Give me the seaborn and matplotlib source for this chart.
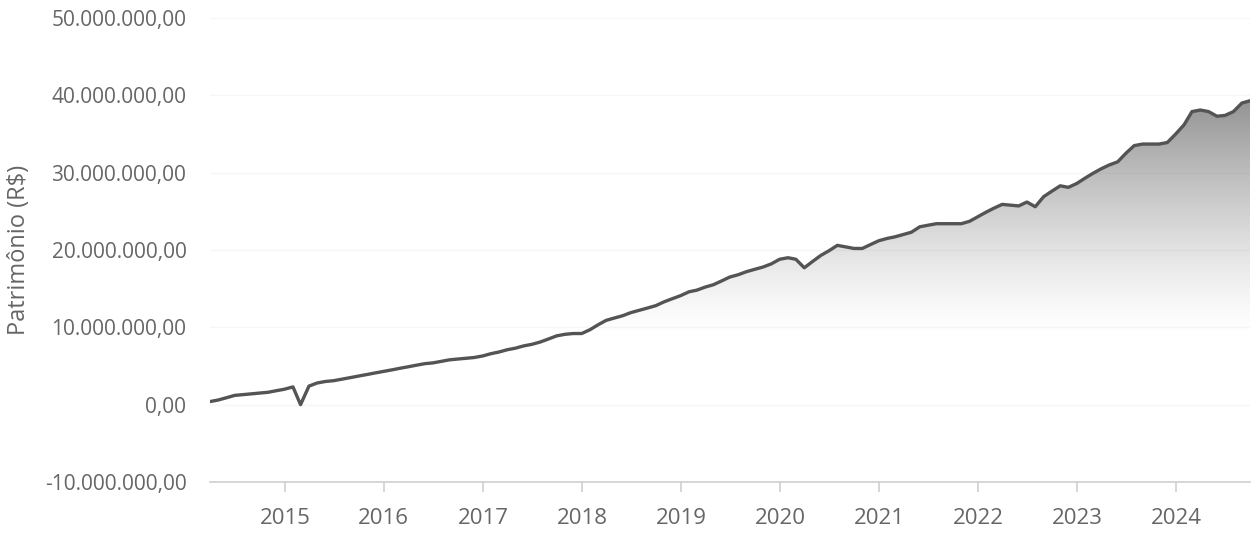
import numpy as np
import pandas as pd
import matplotlib
matplotlib.use("Agg")
import matplotlib.pyplot as plt
import matplotlib.dates as mdates
from matplotlib.ticker import FuncFormatter
import seaborn as sns

# month-end patrimony, millions of R$ (Mar 2014 .. Sep 2024)
start_month = "2014-03-31"
patrimonio_mi = [
    0.4, 0.6, 0.9, 1.2, 1.3, 1.4, 1.5, 1.6, 1.8, 2.0,            # 2014
    2.3, 0.0, 2.4, 2.8, 3.0, 3.1, 3.3, 3.5, 3.7, 3.9, 4.1, 4.3,  # 2015
    4.5, 4.7, 4.9, 5.1, 5.3, 5.4, 5.6, 5.8, 5.9, 6.0, 6.1, 6.3,  # 2016
    6.6, 6.8, 7.1, 7.3, 7.6, 7.8, 8.1, 8.5, 8.9, 9.1, 9.2, 9.2,  # 2017
    9.7, 10.3, 10.9, 11.2, 11.5, 11.9, 12.2, 12.5, 12.8, 13.3, 13.7, 14.1,  # 2018
    14.6, 14.8, 15.2, 15.5, 16.0, 16.5, 16.8, 17.2, 17.5, 17.8, 18.2, 18.8,  # 2019
    19.0, 18.8, 17.7, 18.5, 19.3, 19.9, 20.6, 20.4, 20.2, 20.2, 20.7, 21.2,  # 2020
    21.5, 21.7, 22.0, 22.3, 23.0, 23.2, 23.4, 23.4, 23.4, 23.4, 23.7, 24.3,  # 2021
    24.9, 25.4, 25.9, 25.8, 25.7, 26.2, 25.6, 26.9, 27.6, 28.3, 28.1, 28.6,  # 2022
    29.3, 29.9, 30.5, 31.0, 31.4, 32.5, 33.5, 33.7, 33.7, 33.7, 33.9, 35.0,  # 2023
    36.2, 37.9, 38.1, 37.9, 37.3, 37.4, 37.9, 39.0, 39.3,                    # 2024
]
y_ticks_mi = [-10, 0, 10, 20, 30, 40, 50]
year_ticks = list(range(2015, 2025))

datas = pd.date_range(start_month, periods=len(patrimonio_mi), freq="ME")
df = pd.DataFrame({"data": datas, "patrimonio": np.array(patrimonio_mi) * 1e6})

sns.set_theme(style="white")
plt.rcParams["font.family"] = ["Open Sans", "DejaVu Sans"]

fig = plt.figure(figsize=(12.51, 5.36), dpi=100)
ax = fig.add_axes([210 / 1251, 1 - 482 / 536, (1250 - 210) / 1251, (482 - 18) / 536])

line_color = "#545454"
sns.lineplot(data=df, x="data", y="patrimonio", ax=ax, color=line_color, linewidth=2.4, zorder=3)

ymin, ymax = -10e6, 50e6
ax.set_ylim(ymin, ymax)
ax.set_xlim(df["data"].iloc[0], df["data"].iloc[-1])

# vertical gradient fill under the line, fading out towards the bottom
xnum = mdates.date2num(df["data"])
poly = ax.fill_between(xnum, df["patrimonio"], ymin, facecolor="none", edgecolor="none")
h = 400
vals = np.linspace(ymax, ymin, h)
ramp = np.clip((vals - 9e6) / (40e6 - 9e6), 0, 1)
alpha = ramp ** 1.3 * 0.75
grad = np.zeros((h, 2, 4))
grad[..., :3] = 0.42
grad[..., 3] = alpha[:, None]
im = ax.imshow(grad, extent=[xnum[0], xnum[-1], ymin, ymax], aspect="auto", zorder=2,
               interpolation="bilinear")
im.set_clip_path(poly.get_paths()[0], transform=ax.transData)

def fmt_br(v, pos):
    s = f"{v:,.2f}"
    return s.replace(",", "X").replace(".", ",").replace("X", ".")

ax.set_yticks(np.array(y_ticks_mi) * 1e6)
ax.yaxis.set_major_formatter(FuncFormatter(fmt_br))
ax.set_xticks([pd.Timestamp(f"{y}-01-01") for y in year_ticks])
ax.xaxis.set_major_formatter(mdates.DateFormatter("%Y"))

ax.grid(axis="y", color="#f6f6f6", linewidth=1)
for s in ["top", "right", "left"]:
    ax.spines[s].set_visible(False)
ax.spines["bottom"].set_color("#cfcfcf")
ax.spines["bottom"].set_linewidth(1.2)
ax.tick_params(axis="x", colors="#cfcfcf", length=7, width=1.2, direction="out", bottom=True,
               labelcolor="#666666", labelsize=16, pad=12)
ax.tick_params(axis="y", length=0, labelcolor="#666666", labelsize=15, pad=17)

ax.set_xlabel("")
ax.set_ylabel("Patrimônio (R$)", color="#666666", fontsize=17, labelpad=10)

fig.savefig("out.png", dpi=100, facecolor="white")
